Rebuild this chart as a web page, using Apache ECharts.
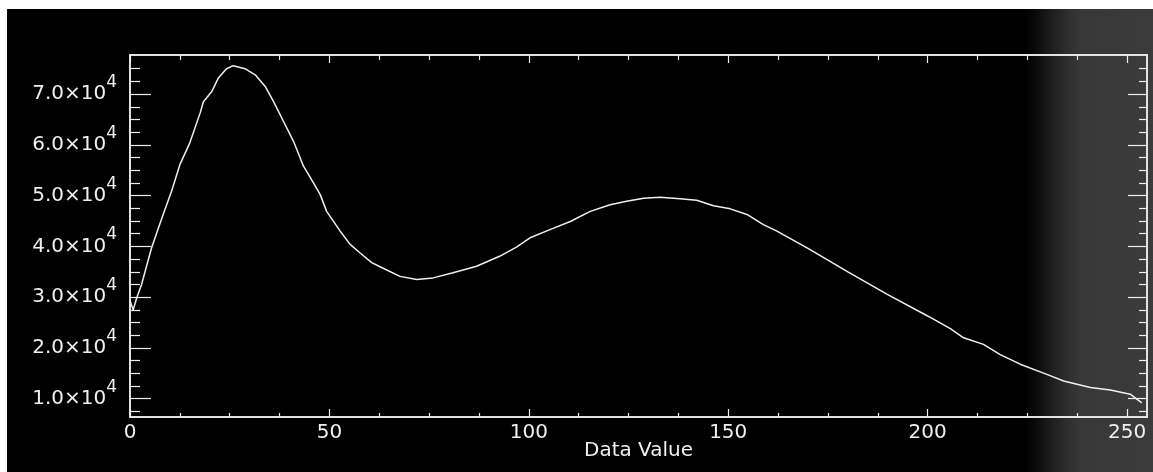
<!DOCTYPE html>
<html>
<head>
<meta charset="utf-8">
<script src="https://cdn.jsdelivr.net/npm/echarts@6/dist/echarts.min.js"></script>
<style>
html,body{margin:0;padding:0;background:#fff;}
#wrap{position:relative;width:1153px;height:472px;overflow:hidden;background:#fff;}
#bg{position:absolute;left:7px;top:9px;right:0;bottom:0;
  background:linear-gradient(to right,#000 0px,#000 1018px,#0c0c0c 1030px,#1e1e1e 1045px,#2e2e2e 1060px,#383838 1075px,#3b3b3b 1146px);}
#chart{position:absolute;left:0;top:0;width:1153px;height:472px;}
</style>
</head>
<body>
<div id="wrap"><div id="bg"></div><div id="chart"></div></div>
<script>
// Data (histogram of data values)
const dataValue = [0, 0.8, 1.7, 2.9, 3.8, 5.4, 8, 10.4, 12.5, 15, 17.6, 18.4, 20.5, 22.1, 24.2, 25.9, 28.8, 31.4, 33.9, 36, 38.5, 41, 43.5, 46, 47.7, 49.3, 52.7, 55.2, 57.7, 60.6, 62.7, 67.7, 71.9, 76, 81, 86.9, 92.8, 97, 100.3, 105.3, 110.4, 115.4, 120.4, 124.5, 128.8, 132.9, 137.9, 142.1, 146.3, 150.5, 154.7, 158.8, 162.2, 170, 180, 190, 200, 205.7, 209, 214, 218.2, 223.2, 229.9, 234.1, 240.8, 245.8, 250.8, 253.7];
const counts = [29300, 27500, 29900, 32500, 35100, 39700, 45600, 50800, 56100, 60400, 66300, 68500, 70500, 73100, 75000, 75600, 75000, 73800, 71500, 68500, 64600, 60700, 55800, 52500, 50200, 46900, 43000, 40400, 38700, 36800, 36000, 34100, 33500, 33800, 34800, 36100, 38100, 39900, 41700, 43300, 44900, 46900, 48200, 48900, 49500, 49700, 49400, 49100, 48000, 47400, 46300, 44300, 43000, 39600, 35000, 30500, 26300, 23800, 22000, 20700, 18700, 16800, 14800, 13500, 12200, 11700, 10900, 9200];

const xMajor = [0, 50, 100, 150, 200, 250];
const xMinor = [12.5, 25, 37.5, 62.5, 75, 87.5, 112.5, 125, 137.5, 162.5, 175, 187.5, 212.5, 225, 237.5];
const yMajor = [10000, 20000, 30000, 40000, 50000, 60000, 70000];
const yMinor = [7500, 12500, 15000, 17500, 22500, 25000, 27500, 32500, 35000, 37500, 42500, 45000, 47500, 52500, 55000, 57500, 62500, 65000, 67500, 72500, 75000];
const xTitle = 'Data Value';

const X_MIN = 0, X_MAX = 255, Y_MIN = 6400, Y_MAX = 77700;
const WHITE = '#efefef';
const FONT = 'DejaVu Sans';

const points = dataValue.map((v, i) => [v, counts[i]]);

function xAxisDef(pos, ticks, len, showLabel) {
  return {
    type: 'value', position: pos, min: X_MIN, max: X_MAX,
    axisLine: {show: true, onZero: false, lineStyle: {color: WHITE, width: 1.5}},
    axisTick: {show: true, inside: true, length: len, customValues: ticks, lineStyle: {color: WHITE, width: 1.2}},
    axisLabel: showLabel ? {show: true, customValues: ticks, color: WHITE, fontFamily: FONT, fontSize: 20, margin: 6} : {show: false},
    splitLine: {show: false},
    name: showLabel ? xTitle : '',
    nameLocation: 'middle', nameGap: 24, nameMoveOverlap: false,
    nameTextStyle: {color: WHITE, fontFamily: FONT, fontSize: 20}
  };
}
function yAxisDef(pos, ticks, len, showLabel) {
  return {
    type: 'value', position: pos, min: Y_MIN, max: Y_MAX,
    axisLine: {show: true, onZero: false, lineStyle: {color: WHITE, width: 1.5}},
    axisTick: {show: true, inside: true, length: len, customValues: ticks, lineStyle: {color: WHITE, width: 1.2}},
    axisLabel: showLabel ? {
      show: true, customValues: ticks, margin: 13,
      formatter: v => '{a|' + (v / 10000).toFixed(1) + '×10}{s|4}',
      rich: {
        a: {color: WHITE, fontFamily: FONT, fontSize: 20, lineHeight: 20},
        s: {color: WHITE, fontFamily: FONT, fontSize: 17, lineHeight: 20, padding: [0, 0, 23, 0]}
      }
    } : {show: false},
    splitLine: {show: false}
  };
}

const chart = echarts.init(document.getElementById('chart'), null, {renderer: 'canvas'});
chart.setOption({
  backgroundColor: 'transparent',
  animation: false,
  grid: {left: 130, top: 55, width: 1017, height: 362},
  xAxis: [
    xAxisDef('bottom', xMajor, 8, true),
    xAxisDef('bottom', xMinor, 4, false),
    xAxisDef('top', xMajor, 8, false),
    xAxisDef('top', xMinor, 5, false)
  ],
  yAxis: [
    yAxisDef('left', yMajor, 21, true),
    yAxisDef('left', yMinor, 10, false),
    yAxisDef('right', yMajor, 19, false),
    yAxisDef('right', yMinor, 8, false)
  ],
  series: [{
    type: 'line', xAxisIndex: 0, yAxisIndex: 0,
    data: points, showSymbol: false, smooth: false,
    lineStyle: {color: WHITE, width: 1.5}
  }]
});
</script>
</body>
</html>
